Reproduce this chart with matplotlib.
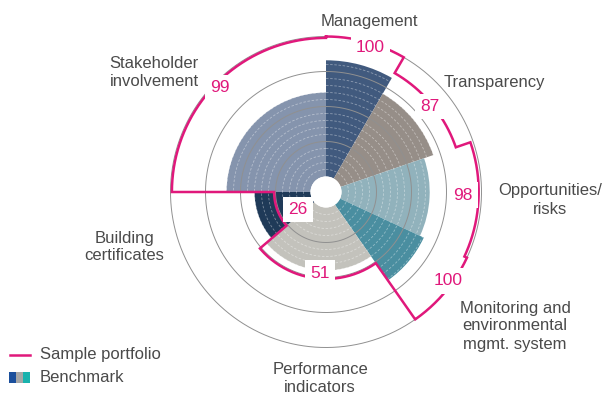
import numpy as np
import matplotlib
matplotlib.use('Agg')
import matplotlib.pyplot as plt
from matplotlib.lines import Line2D
from matplotlib.patches import Rectangle

plt.rcParams['font.family'] = ['Liberation Sans', 'DejaVu Sans']

# data: sector widths (deg, clockwise from top), benchmark bars, portfolio line
categories = ['Management', 'Transparency', 'Opportunities/\nrisks',
              'Monitoring and\nenvironmental\nmgmt. system',
              'Performance\nindicators', 'Building\ncertificates',
              'Stakeholder\ninvolvement']
widths_deg = [30, 41, 44, 30, 84.5, 40.5, 90]
benchmark = [83, 70, 63, 66, 45, 40, 60]
portfolio = [100, 87, 98, 100, 51, 26, 99]
grid_values = [25, 50, 75, 100]

bar_colors = ['#415a7e', '#968e88', '#91b2bc', '#4a8ea0',
              '#c3c2bc', '#1f3a58', '#8594ad']
pink = '#e0187b'
text_gray = '#4a4a4a'

# layout (pixels)
W, H = 603, 394
cx, cy = 326, 192
hole, scale = 15.5, 1.4
rmax = 106
# label centres in pixels, and (dtheta deg, dr) shifts for value labels
cat_pos = [(369, 21.5), (494.5, 82), (550, 200), (515, 326),
           (320, 378), (124, 247), (154, 72)]
val_shift = [(2, -3), (0, -2), (-1.7, -11), (-4, -3),
             (-3, -4), (-11.5, -13.5), (-0.5, -4)]

fig = plt.figure(figsize=(W / 100, H / 100), dpi=100)
R = hole + scale * rmax
ax = fig.add_axes([(cx - R) / W, (H - cy - R) / H, 2 * R / W, 2 * R / H],
                  projection='polar')
ax.set_theta_zero_location('N')
ax.set_theta_direction(-1)
ax.set_ylim(0, rmax)
ax.set_rorigin(-hole / scale)
ax.axis('off')

edges = np.deg2rad(np.concatenate([[0], np.cumsum(widths_deg)]))
starts = edges[:-1]
widths = np.diff(edges)
mids = starts + widths / 2

# benchmark bars
ax.bar(starts, benchmark, width=widths, align='edge', color=bar_colors,
       edgecolor='none', zorder=1)

# thin white rings inside the bars, gray grid rings on top
theta = np.linspace(0, 2 * np.pi, 500)
for v in range(5, 100, 5):
    if v % 25:
        ax.plot(theta, np.full_like(theta, v), color='white', lw=0.6,
                ls=(0, (3, 2)), alpha=0.4, zorder=2)
for v in grid_values:
    ax.plot(theta, np.full_like(theta, v), color='#909090', lw=0.7, zorder=3)

# sample portfolio stepped line
th_parts, r_parts = [], []
for s, e, v in zip(starts, edges[1:], portfolio):
    t = np.linspace(s, e, 80)
    th_parts.append(t)
    r_parts.append(np.full_like(t, v))
th = np.concatenate(th_parts + [th_parts[0][:1]])
rr = np.concatenate(r_parts + [r_parts[0][:1]])
ax.plot(th, rr, color=pink, lw=1.8, zorder=4, solid_joinstyle='miter',
        clip_on=False)

for m, v, (dt, dr) in zip(mids, portfolio, val_shift):
    ax.text(m + np.deg2rad(dt), v + dr, str(v), ha='center', va='center',
            color=pink, fontsize=12.5, zorder=5,
            bbox=dict(boxstyle='square,pad=0.3', fc='white', ec='none'))

# category labels
for name, (x, y) in zip(categories, cat_pos):
    fig.text(x / W, 1 - y / H, name, ha='center', va='center',
             color=text_gray, fontsize=12, linespacing=1.25)

# legend
fig.add_artist(Line2D([10 / W, 30 / W], [1 - 355 / H, 1 - 355 / H],
                      color=pink, lw=1.8))
fig.text(40 / W, 1 - 355 / H, 'Sample portfolio', ha='left', va='center',
         color=text_gray, fontsize=12)
for i, c in enumerate(['#1b4f9c', '#a6a6a6', '#19b2ad']):
    fig.add_artist(Rectangle(((9 + 7 * i) / W, 1 - 383 / H), 7 / W, 11 / H,
                             transform=fig.transFigure, color=c, lw=0))
fig.text(40 / W, 1 - 378 / H, 'Benchmark', ha='left', va='center',
         color=text_gray, fontsize=12)

fig.savefig('out.png', dpi=100, facecolor='white')
